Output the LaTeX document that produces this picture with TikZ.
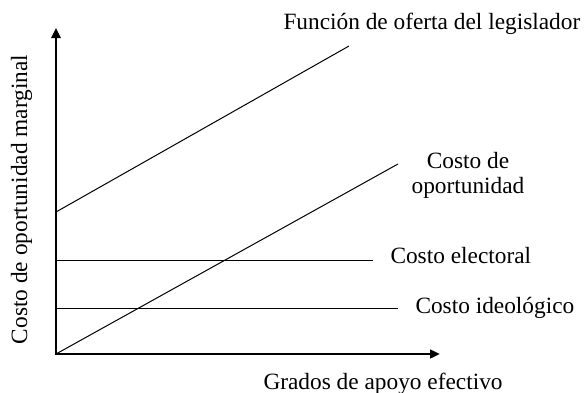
\documentclass[tikz,border=0pt]{standalone}
\usepackage{fontspec}
\setmainfont{Liberation Serif}
\usepackage{tikz}
\usetikzlibrary{arrows.meta}
\tikzset{every picture/.style={line width=0.75pt}}
\tikzset{
  axis/.style={line width=1.8pt, line join=miter,
    {Triangle[length=7.5pt,width=6.75pt]}-{Triangle[length=7.5pt,width=6.5pt]}},
  curveline/.style={line width=0.75pt},
  lbl/.style={font=\fontsize{17.5}{18.75}\selectfont, inner sep=0pt}
}

\begin{document}
\begin{tikzpicture}[x=0.75pt,y=0.75pt,yscale=-1,xscale=1]
\useasboundingbox (0,0) rectangle (586,393);

%Axes
\coordinate (O) at (56,354);
\coordinate (ytop) at (56,28);
\coordinate (xend) at (440,354);
\draw [axis] (ytop) -- (O) -- (xend);

%Straight Lines
\coordinate (oferta0) at (56,212);
\coordinate (oferta1) at (349,46);
\coordinate (oport1) at (398,164);
\coordinate (elec0) at (56,260);
\coordinate (elec1) at (373,260);
\coordinate (ideo0) at (56,308);
\coordinate (ideo1) at (398,308);
\draw [curveline] (oferta0) -- (oferta1);
\draw [curveline] (O) -- (oport1);
\draw [curveline] (elec0) -- (elec1);
\draw [curveline] (ideo0) -- (ideo1);

% Text Node
\node [lbl, anchor=base west] (toferta) at (283,29) {Función de oferta del legislador};
% Text Node
\node [lbl, align=center] (toport) at (468,175) {Costo de\\oportunidad};
% Text Node
\node [lbl, anchor=base west] (telec) at (390,263) {Costo electoral};
% Text Node
\node [lbl, anchor=base west] (tideo) at (415,313) {Costo ideológico};
% Text Node
\node [lbl, anchor=base west] (txaxis) at (263,389) {Grados de apoyo efectivo};
% Text Node
\node [lbl, anchor=base, rotate=90] (tyaxis) at (27,199.5) {Costo de oportunidad marginal};

\end{tikzpicture}
\end{document}
